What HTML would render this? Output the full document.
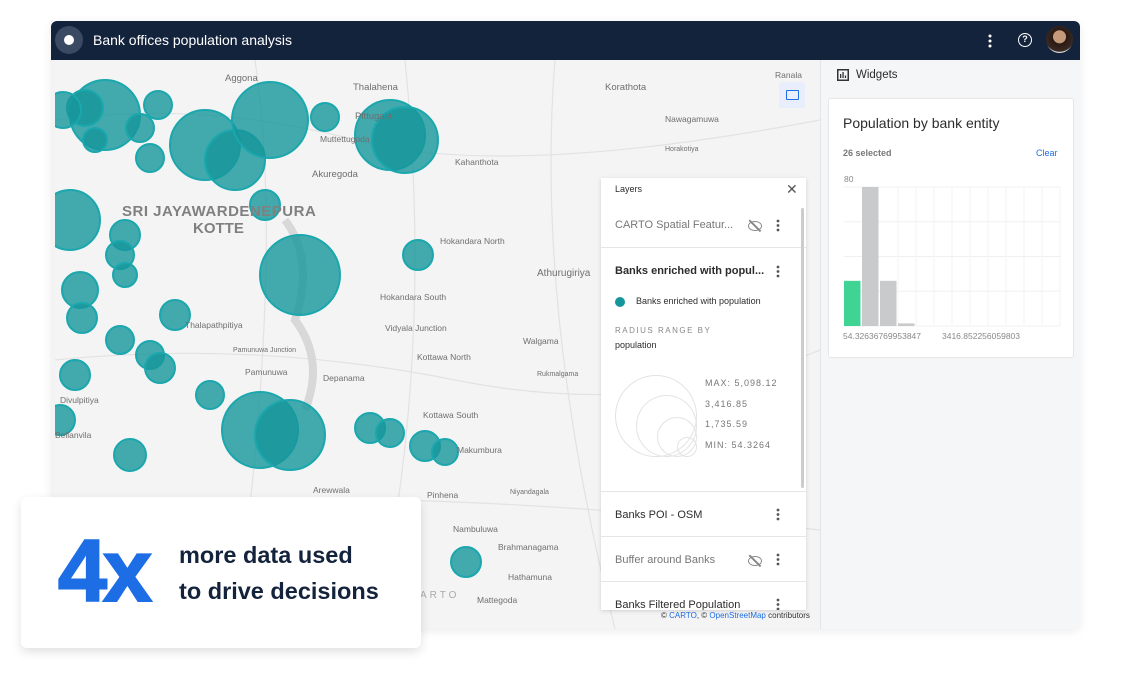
<!DOCTYPE html>
<html><head><meta charset="utf-8"><style>
*{box-sizing:border-box;margin:0;padding:0}
body{width:1131px;height:675px;background:#fff;font-family:"Liberation Sans",sans-serif;position:relative;overflow:hidden}
.abs{position:absolute}
.lbl{position:absolute;font-size:8.5px;color:#6f6f6f;white-space:nowrap}
.row{position:absolute;left:0;width:205px;border-bottom:1px solid #e6e6e6;background:#fff}
.row .t{position:absolute;left:14px;font-size:11px;color:#2c2c2c;white-space:nowrap}
.dots{position:absolute;right:26px;width:4px;height:14px}
.eye{position:absolute;right:44px;width:14px;height:10px;border:1.5px solid #888;border-radius:50%}
.eye:after{content:"";position:absolute;left:5px;top:-4px;width:1.5px;height:16px;background:#888;transform:rotate(-45deg)}
</style></head><body>
<div class="abs" style="left:51px;top:21px;width:1029px;height:608px;background:#f3f3f3;border-radius:6px;overflow:hidden;box-shadow:0 2px 10px rgba(0,0,0,.08)">
 <div class="abs" style="left:0;top:0;width:1029px;height:39px;background:#14233c">
  <div class="abs" style="left:4px;top:5px;width:28px;height:28px;border-radius:50%;background:#3b4a63"><div class="abs" style="left:9px;top:9px;width:10px;height:10px;border-radius:50%;background:#fff"></div></div>
  <div class="abs" style="left:42px;top:11px;color:#fff;font-size:14px">Bank offices population analysis</div>
  <svg class="abs" style="left:937px;top:13px" width="4" height="14"><circle cx="2" cy="2" r="1.5" fill="#fff"/><circle cx="2" cy="7" r="1.5" fill="#fff"/><circle cx="2" cy="12" r="1.5" fill="#fff"/></svg>
  <div class="abs" style="left:967px;top:12px;width:14px;height:14px;border:1.5px solid #fff;border-radius:50%;color:#fff;font-size:9px;text-align:center;line-height:11px;font-weight:bold">?</div>
  <div class="abs" style="left:995px;top:5px;width:27px;height:27px;border-radius:50%;background:radial-gradient(circle at 50% 40%,#c49a7a 0 30%,#2a1a14 32%,#3a2a22 70%,#ddd 72%)"></div>
 </div>
 <div class="abs" style="left:4px;top:39px;width:765px;height:569px;background:#f4f4f4;overflow:hidden">
  <svg id="map-svg" width="765" height="569" style="position:absolute;left:0;top:0">
   <g stroke="#e2e2e2" fill="none" stroke-width="1.2">
    <path d="M0 60 Q150 40 300 80 T765 60"/><path d="M0 300 Q200 280 400 320 T765 290"/><path d="M200 0 Q230 200 180 569"/><path d="M500 0 Q480 250 560 569"/><path d="M0 450 Q300 420 765 470"/><path d="M350 0 Q380 300 320 569"/>
   </g>
   <path d="M230 160 Q260 200 240 260 Q270 300 250 350" stroke="#d8d8d8" stroke-width="8" fill="none"/>
  </svg>
  <div class="lbl" style="left:170px;top:13px;font-size:9.5px">Aggona</div>
  <div class="lbl" style="left:298px;top:22px;font-size:9.5px">Thalahena</div>
  <div class="lbl" style="left:265px;top:74px">Muttettugoda</div>
  <div class="lbl" style="left:257px;top:109px;font-size:9.5px">Akuregoda</div>
  <div class="lbl" style="left:300px;top:51px;font-size:9.5px">Pittugala</div>
  <div class="lbl" style="left:550px;top:22px;font-size:9.5px">Korathota</div>
  <div class="lbl" style="left:610px;top:54px">Nawagamuwa</div>
  <div class="lbl" style="left:610px;top:86px;font-size:7px">Horakotiya</div>
  <div class="lbl" style="left:400px;top:97px">Kahanthota</div>
  <div class="lbl" style="left:720px;top:10px">Ranala</div>
  <div class="lbl" style="left:67px;top:143px;font-size:15px;font-weight:bold;color:#808080;letter-spacing:.5px">SRI JAYAWARDENEPURA</div>
  <div class="lbl" style="left:138px;top:160px;font-size:15px;font-weight:bold;color:#808080">KOTTE</div>
  <div class="lbl" style="left:385px;top:176px">Hokandara North</div>
  <div class="lbl" style="left:482px;top:208px;font-size:10px">Athurugiriya</div>
  <div class="lbl" style="left:325px;top:232px">Hokandara South</div>
  <div class="lbl" style="left:330px;top:263px">Vidyala Junction</div>
  <div class="lbl" style="left:130px;top:260px">Thalapathpitiya</div>
  <div class="lbl" style="left:178px;top:287px;font-size:7px">Pamunuwa Junction</div>
  <div class="lbl" style="left:362px;top:292px">Kottawa North</div>
  <div class="lbl" style="left:468px;top:276px">Walgama</div>
  <div class="lbl" style="left:268px;top:313px">Depanama</div>
  <div class="lbl" style="left:190px;top:307px">Pamunuwa</div>
  <div class="lbl" style="left:482px;top:311px;font-size:7px">Rukmalgama</div>
  <div class="lbl" style="left:5px;top:335px">Divulpitiya</div>
  <div class="lbl" style="left:368px;top:350px">Kottawa South</div>
  <div class="lbl" style="left:0px;top:370px">Bellanvila</div>
  <div class="lbl" style="left:402px;top:385px">Makumbura</div>
  <div class="lbl" style="left:258px;top:425px">Arewwala</div>
  <div class="lbl" style="left:372px;top:430px">Pinhena</div>
  <div class="lbl" style="left:455px;top:429px;font-size:7px">Niyandagala</div>
  <div class="lbl" style="left:398px;top:464px">Nambuluwa</div>
  <div class="lbl" style="left:443px;top:482px">Brahmanagama</div>
  <div class="lbl" style="left:453px;top:512px">Hathamuna</div>
  <div class="lbl" style="left:422px;top:535px">Mattegoda</div>
  <div class="lbl" style="left:365px;top:530px;font-size:10px;letter-spacing:3px;color:#aaa">ARTO</div>
  <div class="abs" style="left:724px;top:22px;width:26px;height:26px;background:#e8eefc;border-radius:3px"><div class="abs" style="left:7px;top:8px;width:13px;height:10px;border:1.5px solid #1d6de5;border-radius:1px"></div></div>
  <div class="lbl" style="left:606px;top:551px;font-size:8px;color:#333">© <span style="color:#1d6de5">CARTO</span>, © <span style="color:#1d6de5">OpenStreetMap</span> contributors</div>
 </div>
 <div class="abs" style="left:769px;top:39px;width:260px;height:569px;background:#f5f6f7;border-left:1px solid #e5e5e5">
  <svg class="abs" style="left:16px;top:9px" width="12" height="12"><rect x="0.75" y="0.75" width="10.5" height="10.5" fill="none" stroke="#333" stroke-width="1.5"/><rect x="3" y="5" width="1.3" height="4" fill="#333"/><rect x="5.4" y="3" width="1.3" height="6" fill="#333"/><rect x="7.8" y="6.5" width="1.3" height="2.5" fill="#333"/></svg>
  <div class="abs" style="left:35px;top:9px;font-size:11.5px;color:#2c2c2c">Widgets</div>
  <div class="abs" style="left:7px;top:38px;width:246px;height:260px;background:#fff;border:1px solid #e6e6e6;border-radius:3px">
   <div class="abs" style="left:14px;top:16px;font-size:14px;color:#2c2c2c">Population by bank entity</div>
   <div class="abs" style="left:14px;top:49px;font-size:9px;color:#777;font-weight:bold">26 selected</div>
   <div class="abs" style="left:207px;top:49px;font-size:9px;color:#1d6de5">Clear</div>
   <svg id="hist" width="246" height="200" style="position:absolute;left:0;top:60px"></svg>
  </div>
 </div>
 <div class="abs" style="left:550px;top:157px;width:205px;height:432px;background:#fff;box-shadow:0 1px 4px rgba(0,0,0,.15);overflow:hidden">
  <div class="row" style="top:0;height:24px;border-bottom:none"><div class="t" style="top:6px;font-size:9px">Layers</div><div class="abs" style="left:185px;top:3px;font-size:14px;color:#555">✕</div></div>
  <div class="row" style="top:24px;height:46px"><div class="t" style="top:17px;color:#777">CARTO Spatial Featur...</div><div class="eye" style="top:19px"></div><svg class="dots" style="top:17px" width="4" height="14"><circle cx="2" cy="2" r="1.4" fill="#555"/><circle cx="2" cy="6.5" r="1.4" fill="#555"/><circle cx="2" cy="11" r="1.4" fill="#555"/></svg></div>
  <div class="row" style="top:70px;height:244px">
   <div class="t" style="top:17px;font-weight:600">Banks enriched with popul...</div><svg class="dots" style="top:17px" width="4" height="14"><circle cx="2" cy="2" r="1.4" fill="#555"/><circle cx="2" cy="6.5" r="1.4" fill="#555"/><circle cx="2" cy="11" r="1.4" fill="#555"/></svg>
   <div class="abs" style="left:14px;top:49px;width:10px;height:10px;border-radius:50%;background:#15969b"></div>
   <div class="t" style="left:35px;top:48px;font-size:9px">Banks enriched with population</div>
   <div class="t" style="top:78px;font-size:8px;color:#888;letter-spacing:1.5px">RADIUS RANGE BY</div>
   <div class="t" style="top:92px;font-size:9px">population</div>
   <div class="abs" style="left:14px;top:127px;width:82px;height:82px;border:1px solid #e3e3e3;border-radius:50%"></div>
   <div class="abs" style="left:35px;top:147px;width:61px;height:62px;border:1px solid #e3e3e3;border-radius:50%"></div>
   <div class="abs" style="left:56px;top:169px;width:40px;height:40px;border:1px solid #e3e3e3;border-radius:50%"></div>
   <div class="abs" style="left:76px;top:189px;width:20px;height:20px;border:1px solid #e3e3e3;border-radius:50%"></div>
   <div class="t" style="left:104px;top:130px;font-size:9px;color:#777;letter-spacing:1px">MAX: 5,098.12</div>
   <div class="t" style="left:104px;top:151px;font-size:9px;color:#777;letter-spacing:1px">3,416.85</div>
   <div class="t" style="left:104px;top:171px;font-size:9px;color:#777;letter-spacing:1px">1,735.59</div>
   <div class="t" style="left:104px;top:192px;font-size:9px;color:#777;letter-spacing:1px">MIN: 54.3264</div>
  </div>
  <div class="row" style="top:314px;height:45px"><div class="t" style="top:17px">Banks POI - OSM</div><svg class="dots" style="top:16px" width="4" height="14"><circle cx="2" cy="2" r="1.4" fill="#555"/><circle cx="2" cy="6.5" r="1.4" fill="#555"/><circle cx="2" cy="11" r="1.4" fill="#555"/></svg></div>
  <div class="row" style="top:359px;height:45px"><div class="t" style="top:17px;color:#777">Buffer around Banks</div><div class="eye" style="top:19px"></div><svg class="dots" style="top:16px" width="4" height="14"><circle cx="2" cy="2" r="1.4" fill="#555"/><circle cx="2" cy="6.5" r="1.4" fill="#555"/><circle cx="2" cy="11" r="1.4" fill="#555"/></svg></div>
  <div class="row" style="top:404px;height:45px"><div class="t" style="top:17px">Banks Filtered Population</div><svg class="dots" style="top:16px" width="4" height="14"><circle cx="2" cy="2" r="1.4" fill="#555"/><circle cx="2" cy="6.5" r="1.4" fill="#555"/><circle cx="2" cy="11" r="1.4" fill="#555"/></svg></div>
  <div class="abs" style="left:200px;top:30px;width:3px;height:280px;background:#ccc;border-radius:2px"></div>
 </div>
</div>
<div class="abs" style="left:21px;top:497px;width:400px;height:151px;background:#fff;border-radius:6px;box-shadow:0 4px 10px rgba(0,0,0,.12)">
 <div class="abs" style="left:37px;top:28px;font-size:88px;font-weight:900;color:#1d6de5;letter-spacing:-4px;line-height:92px;-webkit-text-stroke:2px #1d6de5">4x</div>
 <div class="abs" style="left:158px;top:40px;font-size:23.5px;font-weight:bold;color:#14233c;line-height:36px">more data used<br>to drive decisions</div>
</div>
<script>
const circleX=[105,85,158,140,95,205,235,270,150,325,390,405,265,70,125,120,125,80,300,418,175,120,150,160,75,210,260,290,370,390,425,445,130,60,466,63,82];
const circleY=[115,108,105,128,140,145,160,120,158,117,135,140,205,220,235,255,275,290,275,255,315,340,355,368,375,395,430,435,428,433,446,452,455,420,562,110,318];
const circleR=[35,18,14,14,12,35,30,38,14,14,35,33,15,30,15,14,12,18,40,15,15,14,14,15,15,14,38,35,15,14,15,13,16,15,15,18,15];
const svg=document.getElementById('map-svg');
const NS='http://www.w3.org/2000/svg';
for(let i=0;i<circleX.length;i++){
 const c=document.createElementNS(NS,'circle');
 
 
 c.setAttribute('cx',circleX[i]-55);c.setAttribute('cy',circleY[i]-60);c.setAttribute('r',circleR[i]);
 c.setAttribute('fill','#15969b');c.setAttribute('fill-opacity','0.8');c.setAttribute('stroke','#1aa7ad');c.setAttribute('stroke-width','2');
 svg.appendChild(c);
}
const binValues=[26,80,26,1.5];
const binColors=['#40d494','#c9cacb','#c9cacb','#c9cacb'];
const xTickLabels=['54.32636769953847','3416.852256059803'];
const yTickLabels=['80'];
const h=document.getElementById('hist');
const x0=15,plotW=216,baseY=167,plotH=139,yMax=80,nBins=12;
const bw=plotW/nBins;
const yS=v=>baseY-v/yMax*plotH;
for(let k=0;k<=4;k++){const l=document.createElementNS(NS,'line');l.setAttribute('x1',x0);l.setAttribute('x2',x0+plotW);l.setAttribute('y1',yS(k*20));l.setAttribute('y2',yS(k*20));l.setAttribute('stroke','#f0f0f0');h.appendChild(l);}
for(let k=3;k<=nBins;k++){const l=document.createElementNS(NS,'line');l.setAttribute('x1',x0+k*bw);l.setAttribute('x2',x0+k*bw);l.setAttribute('y1',yS(80));l.setAttribute('y2',baseY);l.setAttribute('stroke','#f3f3f3');h.appendChild(l);}
binValues.forEach((v,i)=>{const r=document.createElementNS(NS,'rect');
 
 
 r.setAttribute('x',x0+i*bw);r.setAttribute('width',bw-1.5);r.setAttribute('y',yS(v));r.setAttribute('height',baseY-yS(v));r.setAttribute('fill',binColors[i]);h.appendChild(r);});
const yt=document.createElementNS(NS,'text');


yt.setAttribute('x',x0);yt.setAttribute('y',yS(80)-5);yt.setAttribute('font-size','8.5');yt.setAttribute('fill','#888');yt.setAttribute('font-family','Liberation Sans');yt.textContent=yTickLabels[0];h.appendChild(yt);
[0,5.5].forEach((b,i)=>{const t=document.createElementNS(NS,'text');
 
 
 t.setAttribute('x',x0+b*bw-1);t.setAttribute('y',baseY+13);t.setAttribute('font-size','8.5');t.setAttribute('fill','#888');t.setAttribute('font-family','Liberation Sans');t.textContent=xTickLabels[i];h.appendChild(t);});
</script>
</body></html>
